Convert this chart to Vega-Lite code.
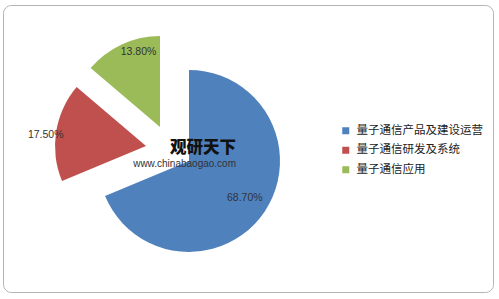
{
  "$schema": "https://vega.github.io/schema/vega-lite/v6.json",
  "width": 490,
  "height": 287,
  "autosize": {"type": "none"},
  "padding": {"left": 3, "top": 5, "right": 6, "bottom": 7},
  "background": "white",
  "view": {"stroke": "#b4b4b4", "strokeWidth": 1, "cornerRadius": 8, "fill": "white"},
  "config": {
    "view": {"stroke": "#b4b4b4", "strokeWidth": 1, "cornerRadius": 8}
  },
  "title": {
    "text": "观研天下",
    "subtitle": "www.chinabaogao.com",
    "anchor": "start",
    "align": "right",
    "dx": 233,
    "dy": 168,
    "font": "Noto Sans CJK SC",
    "fontSize": 16.5,
    "fontWeight": 900,
    "color": "#111111",
    "subtitleFont": "Liberation Sans",
    "subtitleFontSize": 10,
    "subtitleColor": "#333333",
    "subtitlePadding": 3
  },
  "data": {
    "values": [
      {"cat": "量子通信产品及建设运营", "value": 0.687},
      {"cat": "量子通信研发及系统", "value": 0.175},
      {"cat": "量子通信应用", "value": 0.138}
    ]
  },
  "layer": [
    {
      "transform": [
        {"stack": "value", "groupby": [], "as": ["v0", "v1"], "sort": [{"field": "value", "order": "descending"}]},
        {"filter": "datum.cat === '量子通信产品及建设运营'"}
      ],
      "mark": {"type": "arc", "radius": 91, "x": 186, "y": 156},
      "encoding": {
        "theta": {"field": "v0", "type": "quantitative", "scale": {"domain": [0, 1]}},
        "theta2": {"field": "v1"},
        "color": {
          "field": "cat", "type": "nominal",
          "scale": {"domain": ["量子通信产品及建设运营", "量子通信研发及系统", "量子通信应用"], "range": ["#4F81BD", "#C0504D", "#9BBB59"]},
          "legend": {
            "title": null, "orient": "none", "legendX": 337, "legendY": 120,
            "symbolType": "square", "symbolSize": 49, "symbolStrokeWidth": 0,
            "labelFont": "Noto Sans CJK SC", "labelFontSize": 11.5, "labelColor": "#222222",
            "labelOffset": 5, "rowPadding": 6.5, "padding": 0, "labelLimit": 300
          }
        }
      }
    },
    {
      "transform": [
        {"stack": "value", "groupby": [], "as": ["v0", "v1"], "sort": [{"field": "value", "order": "descending"}]},
        {"filter": "datum.cat === '量子通信研发及系统'"}
      ],
      "mark": {"type": "arc", "radius": 91, "x": 143, "y": 141},
      "encoding": {
        "theta": {"field": "v0", "type": "quantitative", "scale": {"domain": [0, 1]}},
        "theta2": {"field": "v1"},
        "color": {"field": "cat", "type": "nominal"}
      }
    },
    {
      "transform": [
        {"stack": "value", "groupby": [], "as": ["v0", "v1"], "sort": [{"field": "value", "order": "descending"}]},
        {"filter": "datum.cat === '量子通信应用'"}
      ],
      "mark": {"type": "arc", "radius": 91, "x": 157, "y": 122},
      "encoding": {
        "theta": {"field": "v0", "type": "quantitative", "scale": {"domain": [0, 1]}},
        "theta2": {"field": "v1"},
        "color": {"field": "cat", "type": "nominal"}
      }
    },
    {
      "mark": {"type": "text", "x": 186, "y": 156, "radius": 67, "font": "Liberation Sans", "fontSize": 10.5, "fill": "#333333"},
      "encoding": {
        "theta": {"field": "value", "type": "quantitative", "stack": true, "scale": {"domain": [0, 1]}},
        "order": {"field": "value", "type": "quantitative", "sort": "descending"},
        "text": {"condition": {"test": "datum.cat === '量子通信产品及建设运营'", "field": "value", "type": "quantitative", "format": ".2%"}, "value": ""}
      }
    },
    {
      "mark": {"type": "text", "x": 186, "y": 152, "radius": 145, "font": "Liberation Sans", "fontSize": 10.5, "fill": "#333333"},
      "encoding": {
        "theta": {"field": "value", "type": "quantitative", "stack": true, "scale": {"domain": [0, 1]}},
        "order": {"field": "value", "type": "quantitative", "sort": "descending"},
        "text": {"condition": {"test": "datum.cat === '量子通信研发及系统'", "field": "value", "type": "quantitative", "format": ".2%"}, "value": ""}
      }
    },
    {
      "mark": {"type": "text", "x": 186, "y": 156, "radius": 120, "font": "Liberation Sans", "fontSize": 10.5, "fill": "#333333"},
      "encoding": {
        "theta": {"field": "value", "type": "quantitative", "stack": true, "scale": {"domain": [0, 1]}},
        "order": {"field": "value", "type": "quantitative", "sort": "descending"},
        "text": {"condition": {"test": "datum.cat === '量子通信应用'", "field": "value", "type": "quantitative", "format": ".2%"}, "value": ""}
      }
    }
  ]
}
